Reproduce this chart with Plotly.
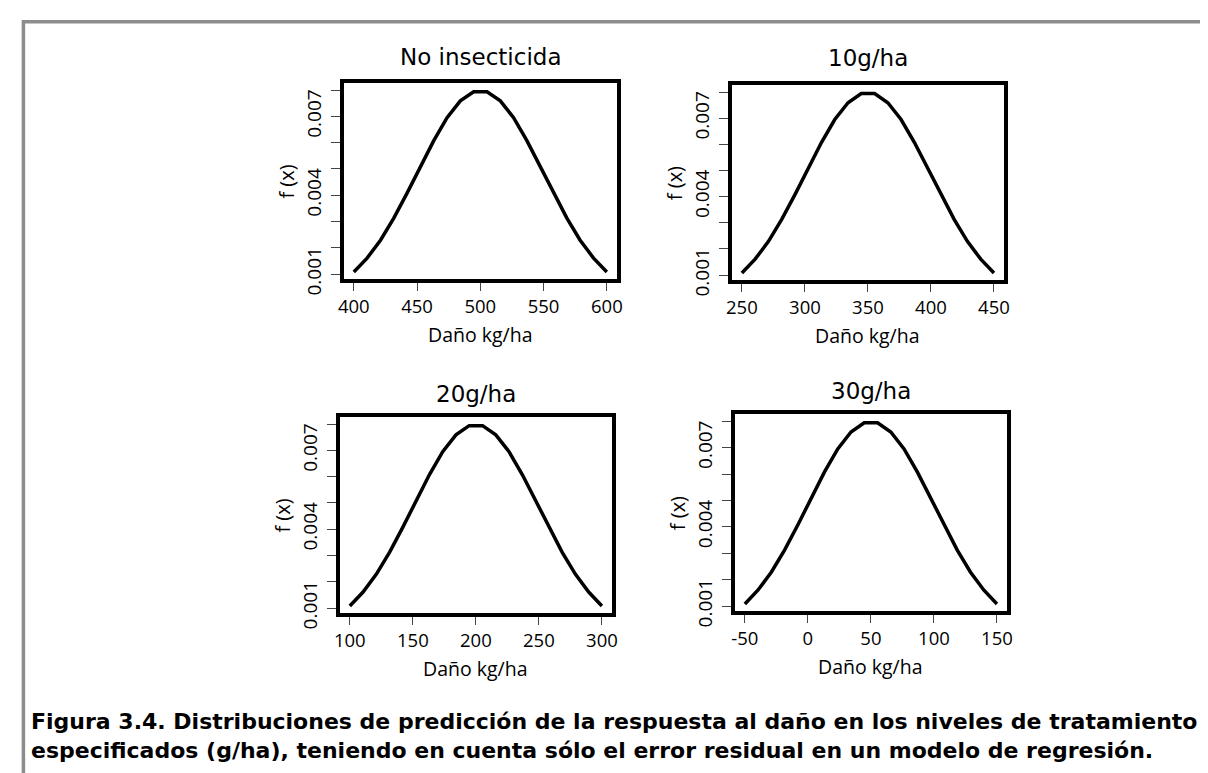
import plotly.graph_objects as go

W, H = 1208, 773

titles = ["No insecticida", "10g/ha", "20g/ha", "30g/ha"]
x_no = [400.0, 410.5, 421.1, 431.6, 442.1, 452.6, 463.2, 473.7, 484.2, 494.7,
        505.3, 515.8, 526.3, 536.8, 547.4, 557.9, 568.4, 578.9, 589.5, 600.0]
x_10 = [250.0, 260.5, 271.1, 281.6, 292.1, 302.6, 313.2, 323.7, 334.2, 344.7,
        355.3, 365.8, 376.3, 386.8, 397.4, 407.9, 418.4, 428.9, 439.5, 450.0]
x_20 = [100.0, 110.5, 121.1, 131.6, 142.1, 152.6, 163.2, 173.7, 184.2, 194.7,
        205.3, 215.8, 226.3, 236.8, 247.4, 257.9, 268.4, 278.9, 289.5, 300.0]
x_30 = [-50.0, -39.5, -28.9, -18.4, -7.9, 2.6, 13.2, 23.7, 34.2, 44.7,
        55.3, 65.8, 76.3, 86.8, 97.4, 107.9, 118.4, 128.9, 139.5, 150.0]
fx = [0.00108, 0.00161, 0.00229, 0.00313, 0.00408, 0.00509, 0.00608, 0.00695, 0.00759, 0.00794,
      0.00794, 0.00759, 0.00695, 0.00608, 0.00509, 0.00408, 0.00313, 0.00229, 0.00161, 0.00108]
xs = [x_no, x_10, x_20, x_30]

x_ticks = [[400, 450, 500, 550, 600], [250, 300, 350, 400, 450],
           [100, 150, 200, 250, 300], [-50, 0, 50, 100, 150]]
y_ticks = [0.001, 0.002, 0.003, 0.004, 0.005, 0.006, 0.007, 0.008]
y_ticktext = ["0.001", "", "", "0.004", "", "", "0.007", ""]
x_label = "Daño kg/ha"
y_label = "f (x)"
caption = ("Figura 3.4. Distribuciones de predicción de la respuesta al daño en los niveles de tratamiento<br>"
           "especificados (g/ha), teniendo en cuenta sólo el error residual en un modelo de regresión.")

# pixel boxes of plot areas: left, right, top, bottom
boxes = [(333, 609, 77, 277), (725, 1000, 79, 278), (329, 604, 418, 618), (728, 1003, 415, 616)]
title_y = [50, 51, 394, 391]

FONT = "Open Sans"
TFONT = "DejaVu Sans"
fig = go.Figure()
annotations = []
for i in range(4):
    l, r, t, b = boxes[i]
    xa = "xaxis" if i == 0 else f"xaxis{i+1}"
    ya = "yaxis" if i == 0 else f"yaxis{i+1}"
    xr = "x" if i == 0 else f"x{i+1}"
    yr = "y" if i == 0 else f"y{i+1}"
    fig.add_trace(go.Scatter(x=xs[i], y=fx, mode="lines",
                             line=dict(color="black", width=3.5),
                             xaxis=xr, yaxis=yr, showlegend=False, hoverinfo="skip"))
    xmin, xmax = min(xs[i]), max(xs[i])
    span = xmax - xmin
    fig.update_layout(**{
        xa: dict(domain=[l / W, r / W], range=[xmin - 0.04 * span, xmax + 0.04 * span],
                 tickvals=x_ticks[i], ticktext=[str(v) for v in x_ticks[i]],
                 ticks="outside", ticklen=8, tickwidth=1.3, tickcolor="#444",
                 showgrid=False, zeroline=False, showline=True, mirror=True,
                 linecolor="black", linewidth=3.8, anchor=yr,
                 tickfont=dict(family=FONT, size=18.5, color="black"), ticklabelstandoff=0),
        ya: dict(domain=[1 - b / H, 1 - t / H], range=[0.000804, 0.008256],
                 tickvals=y_ticks, ticktext=y_ticktext, ticks="outside", ticklen=9, tickwidth=1.3,
                 tickcolor="#444", tickangle=-90,
                 showgrid=False, zeroline=False, showline=True, mirror=True,
                 linecolor="black", linewidth=3.8, anchor=xr,
                 tickfont=dict(family=FONT, size=19, color="black"), ticklabelstandoff=2),
    })
    annotations.append(dict(text=titles[i], x=(l + r) / 2 / W, y=1 - title_y[i] / H,
                            xref="paper", yref="paper", showarrow=False,
                            xanchor="center", yanchor="middle",
                            font=dict(family=TFONT, size=23, color="black")))
    annotations.append(dict(text=x_label, x=(l + r) / 2 / W, y=1 - (b + 56) / H,
                            xref="paper", yref="paper", showarrow=False,
                            xanchor="center", yanchor="middle", borderpad=0,
                            font=dict(family=FONT, size=19.5, color="black")))
    annotations.append(dict(text=y_label, x=(l - 58) / W, y=1 - (t + b) / 2 / H,
                            xref="paper", yref="paper", showarrow=False, textangle=-90,
                            xanchor="center", yanchor="middle",
                            font=dict(family=FONT, size=20, color="black")))

annotations.append(dict(text=caption, x=15 / W, y=1 - 743 / H, xref="paper", yref="paper",
                        showarrow=False, xanchor="left", yanchor="middle", align="left",
                        font=dict(family="DejaVu Sans", size=22, color="black", weight="bold")))

shapes = [dict(type="rect", xref="paper", yref="paper",
               x0=9.5 / W, x1=1230 / W, y0=1 - 14 / H, y1=1 - 800 / H,
               line=dict(color="#8c8c8c", width=3.5), fillcolor="rgba(0,0,0,0)", layer="below")]

fig.update_layout(width=W, height=H, margin=dict(l=0, r=0, t=0, b=0),
                  paper_bgcolor="white", plot_bgcolor="white",
                  annotations=annotations, shapes=shapes)
fig.write_html("out.html")
